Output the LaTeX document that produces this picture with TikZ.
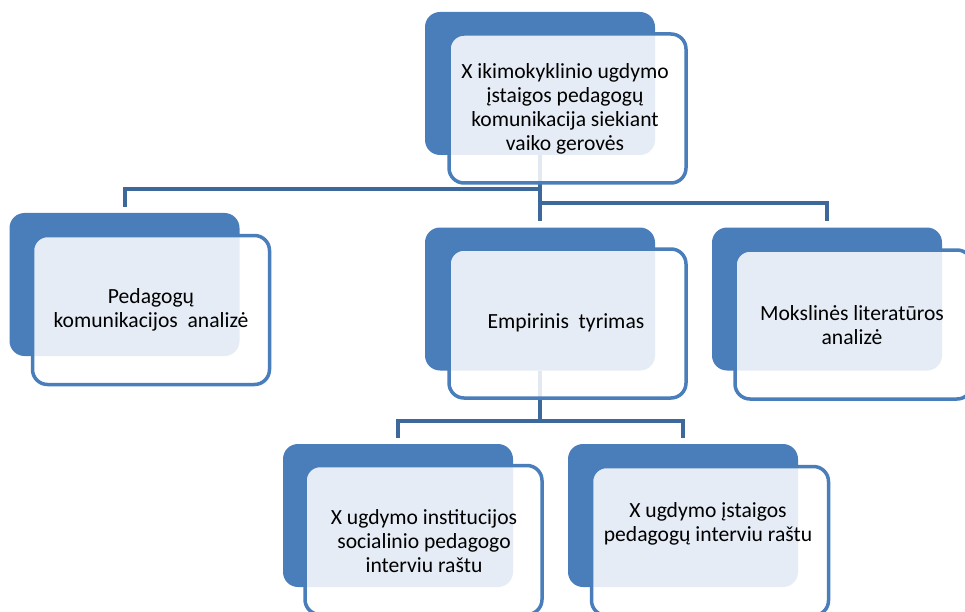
\documentclass[tikz,border=0pt]{standalone}
\usepackage{fontspec}
\setmainfont{Carlito}
\definecolor{backblue}{RGB}{74,126,187}
\definecolor{edgeblue}{RGB}{74,126,187}
\definecolor{linkblue}{RGB}{60,104,156}
\tikzset{
  backbox/.style={draw=none, fill=backblue, rounded corners=15pt, minimum width=230pt, minimum height=143pt, inner sep=0pt},
  frontbox/.style={draw=edgeblue, line width=3.5pt, fill=white, fill opacity=0.86, rounded corners=15pt, minimum width=237pt, minimum height=149pt, inner sep=0pt},
  label/.style={align=center, font=\fontsize{21.6}{24}\selectfont, text=black, inner sep=0pt},
  conn/.style={draw=linkblue, line width=4pt}
}
\begin{document}
\begin{tikzpicture}[x=1pt, y=-1pt]
\useasboundingbox (0,0) rectangle (965,612);
% back boxes
\node[backbox] (tb) at (540,83.5) {};
\node[backbox] (lb) at (124.5,284.5) {};
\node[backbox] (mb) at (540,299) {};
\node[backbox] (rb) at (827,299) {};
\node[backbox] (blb) at (398,515.5) {};
\node[backbox] (brb) at (683,515.5) {};
% connectors (behind front boxes)
\coordinate (j1) at (540,189);
\coordinate (j2) at (540,203);
\coordinate (j3) at (540,421);
\draw[conn] (tb.south) -- ([yshift=6pt]mb.north);
\draw[conn] (j1) -| ([yshift=6pt]lb.north);
\draw[conn] (j2) -| ([yshift=6pt]rb.north);
\draw[conn] (mb.south) -- (j3);
\draw[conn] ([yshift=6pt]blb.north) |- (j3) -| ([yshift=6pt]brb.north);
% front boxes
\node[frontbox] (tf) at (567.5,108.5) {};
\node[frontbox] (lf) at (151,310) {};
\node[frontbox] (mf) at (567.5,323.5) {};
\node[frontbox] (rf) at (853.5,324.5) {};
\node[frontbox] (blf) at (423.5,540) {};
\node[frontbox] (brf) at (710,541) {};
% texts
\node[label] (tt) at (565,109) {X ikimokyklinio ugdymo\\įstaigos pedagogų\\komunikacija siekiant\\vaiko gerovės};
\node[label] (lt) at (151,310) {Pedagogų\\komunikacijos\ \ analizė};
\node[label] (mt) at (566,323) {Empirinis\ \ tyrimas};
\node[label] (rt) at (852,325) {Mokslinės literatūros\\analizė};
\node[label] (blt) at (424,541) {X ugdymo institucijos\\socialinio pedagogo\\interviu raštu};
\node[label] (brt) at (708,524) {X ugdymo įstaigos\\pedagogų interviu raštu};
\end{tikzpicture}
\end{document}
